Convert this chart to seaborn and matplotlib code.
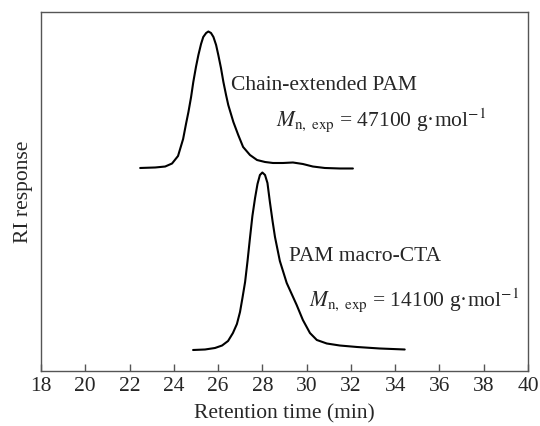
import matplotlib
matplotlib.use("Agg")
import matplotlib.pyplot as plt
import seaborn as sns
import pandas as pd

# Chain-extended PAM trace (retention time in min, RI response in arbitrary units)
t_chain = [22.48, 23.16, 23.61, 23.92, 24.19, 24.42, 24.55, 24.66, 24.78, 24.88,
           25.00, 25.11, 25.23, 25.33, 25.46, 25.56, 25.68, 25.79, 25.91, 26.01,
           26.13, 26.24, 26.36, 26.46, 26.69, 26.91, 27.13, 27.44, 27.76, 28.12,
           28.48, 28.93, 29.38, 29.83, 30.28, 30.82, 31.50, 32.09]
ri_chain = [56.55, 56.69, 56.96, 57.80, 59.89, 64.62, 68.80, 72.14, 76.32, 80.50,
            84.68, 88.02, 91.09, 93.04, 94.15, 94.57, 94.15, 93.04, 90.81, 88.02,
            84.40, 80.50, 76.88, 74.09, 69.36, 65.74, 62.40, 60.17, 58.77, 58.22,
            57.94, 57.94, 58.08, 57.66, 56.96, 56.55, 56.41, 56.41]

# PAM macro-CTA trace
t_macro = [24.87, 25.41, 25.86, 26.18, 26.45, 26.67, 26.85, 26.99, 27.10, 27.22,
           27.33, 27.44, 27.55, 27.67, 27.78, 27.89, 28.00, 28.12, 28.23, 28.34,
           28.46, 28.57, 28.79, 29.10, 29.55, 29.83, 30.15, 30.46, 30.91, 31.50,
           32.27, 33.30, 34.43]
ri_macro = [5.85, 5.99, 6.41, 7.10, 8.36, 10.58, 13.09, 16.43, 20.33, 24.79,
            30.64, 37.05, 43.18, 48.19, 52.09, 54.60, 55.29, 54.60, 52.37, 47.08,
            41.78, 37.33, 30.64, 24.51, 18.38, 14.21, 10.58, 8.64, 7.66, 7.10,
            6.69, 6.27, 5.99]

series_names = ["Chain-extended PAM", "PAM macro-CTA"]
mn_labels = ["47100", "14100"]
x_ticks = [18, 20, 22, 24, 26, 28, 30, 32, 34, 36, 38, 40]

df = pd.concat([
    pd.DataFrame({"t": t_chain, "ri": ri_chain, "sample": series_names[0]}),
    pd.DataFrame({"t": t_macro, "ri": ri_macro, "sample": series_names[1]}),
])

sns.set_style("ticks")
plt.rcParams["font.family"] = ["Liberation Serif", "DejaVu Serif"]
plt.rcParams["mathtext.fontset"] = "stix"
FS = 15.5
plt.rcParams["font.size"] = FS

fig = plt.figure(figsize=(5.4, 4.26), dpi=100)
ax = fig.add_axes([41/540, 1 - 371/426, (528-41)/540, (371-12)/426])

sns.lineplot(data=df, x="t", y="ri", units="sample", estimator=None, sort=False,
             color="black", linewidth=1.5, ax=ax, legend=False)

ax.set_xlim(18, 40)
ax.set_ylim(0, 100)
ax.set_xticks(x_ticks)
ax.set_xticklabels([str(v) for v in x_ticks], fontsize=FS)
ax.set_yticks([])
ax.tick_params(axis="x", direction="in", length=5, width=1, color="#555555", pad=4)
for s in ax.spines.values():
    s.set_visible(True)
    s.set_color("#555555")
    s.set_linewidth(1.0)

ax.set_xlabel("Retention time (min)", fontsize=FS, labelpad=6)
ax.set_ylabel("RI response", fontsize=FS, labelpad=6)

def mn_text(v):
    return r"$M_{\mathrm{n,\ exp}}$ = " + v + r" g·mol$^{-1}$"

ax.text(26.60, 79.6, series_names[0], fontsize=FS, va="center", ha="left")
ax.text(28.60, 69.9, mn_text(mn_labels[0]), fontsize=FS, va="center", ha="left")
ax.text(29.20, 31.8, series_names[1], fontsize=FS, va="center", ha="left")
ax.text(30.10, 19.8, mn_text(mn_labels[1]), fontsize=FS, va="center", ha="left")

fig.savefig("out.png", dpi=100)
